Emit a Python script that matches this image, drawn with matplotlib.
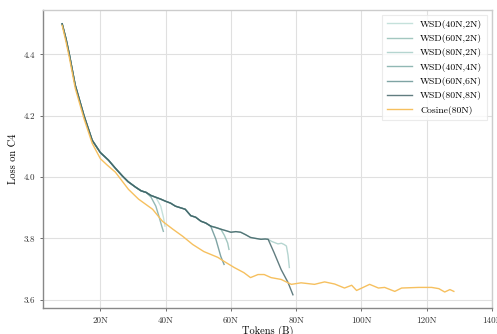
import matplotlib
matplotlib.use('Agg')
import matplotlib.pyplot as plt

plt.rcParams['font.family'] = ['cmr10', 'DejaVu Serif']
plt.rcParams['mathtext.fontset'] = 'cm'
plt.rcParams['axes.unicode_minus'] = False

# shared stable phase of the WSD runs (tokens in B, loss)
trunk_x = [8.3, 9.5, 10.5, 12.3, 15.0, 17.5, 20.0, 22.5, 24.5, 26.8, 28.5, 30.8,
           32.5, 34.0, 35.5, 37.0, 38.5, 40.0, 41.5, 43.0, 44.5, 46.0, 47.7, 49.2,
           50.8, 52.3, 53.8, 55.5, 56.9, 58.5, 60.0, 61.5, 63.0, 64.5, 66.0, 67.5,
           69.2, 70.5, 71.4, 72.5, 74.4, 75.5, 76.3]
trunk_y = [4.50, 4.45, 4.40, 4.30, 4.20, 4.12, 4.08, 4.055, 4.03, 4.003, 3.985, 3.967,
           3.955, 3.950, 3.940, 3.934, 3.928, 3.921, 3.915, 3.905, 3.900, 3.895, 3.874, 3.869,
           3.856, 3.850, 3.840, 3.835, 3.830, 3.825, 3.820, 3.822, 3.820, 3.812, 3.803, 3.800,
           3.797, 3.798, 3.797, 3.790, 3.782, 3.784, 3.780]

# decay phases: (start of decay on the trunk, decay x, decay y)
decay_40n_2n = (37.0, [38.5, 39.3, 39.8], [3.905, 3.87, 3.84])
decay_60n_2n = (56.9, [58.0, 59.0, 59.4], [3.81, 3.785, 3.764])
decay_80n_2n = (76.3, [77.0, 77.5, 77.9], [3.775, 3.745, 3.705])
decay_40n_4n = (34.0, [35.5, 37.0, 38.0, 38.8, 39.3], [3.935, 3.905, 3.87, 3.84, 3.823])
decay_60n_6n = (53.8, [55.4, 56.9, 57.9], [3.797, 3.741, 3.715])
decay_80n_8n = (71.4, [73.2, 75.4, 77.5, 79.0], [3.754, 3.698, 3.656, 3.616])

cos_x = [8.3, 9.5, 10.5, 12.3, 15.0, 17.5, 20.0, 22.0, 24.6, 28.6, 31.7, 36.0,
         39.0, 42.2, 45.2, 48.3, 51.7, 56.0, 57.9, 61.0, 64.0, 66.0, 68.3, 70.2,
         72.3, 75.4, 78.5, 81.5, 85.6, 88.7, 91.8, 94.8, 97.0, 98.5, 102.5, 105.2,
         107.1, 110.2, 112.3, 117.5, 121.5, 123.7, 125.5, 127.1, 128.3]
cos_y = [4.495, 4.44, 4.39, 4.29, 4.19, 4.11, 4.06, 4.04, 4.016, 3.96, 3.928, 3.895,
         3.856, 3.83, 3.807, 3.78, 3.757, 3.738, 3.725, 3.705, 3.688, 3.672, 3.682, 3.682,
         3.672, 3.666, 3.65, 3.655, 3.65, 3.658, 3.651, 3.638, 3.647, 3.63, 3.65, 3.638,
         3.64, 3.627, 3.638, 3.64, 3.64, 3.636, 3.625, 3.633, 3.627]

runs = [
    ('WSD(40N,2N)', decay_40n_2n, '#b7dad3'),
    ('WSD(60N,2N)', decay_60n_2n, '#8cb9b1'),
    ('WSD(80N,2N)', decay_80n_2n, '#a3cbc5'),
    ('WSD(40N,4N)', decay_40n_4n, '#76a6a2'),
    ('WSD(60N,6N)', decay_60n_6n, '#5f8d8e'),
    ('WSD(80N,8N)', decay_80n_8n, '#3a5c60'),
]

fig = plt.figure(figsize=(4.97, 3.34), dpi=100)
ax = fig.add_axes([0.087, 0.078, 0.903, 0.892])

for label, (start, dx, dy), color in runs:
    xs = [x for x in trunk_x if x <= start] + dx
    ys = [y for x, y in zip(trunk_x, trunk_y) if x <= start] + dy
    ax.plot(xs, ys, color=color, lw=1.0, alpha=0.8, label=label)

ax.plot(cos_x, cos_y, color='#f6c05f', lw=1.0, label='Cosine(80N)')

ax.set_xlim(2.5, 140)
ax.set_ylim(3.573, 4.545)
xt = [20, 40, 60, 80, 100, 120, 140]
ax.set_xticks(xt)
ax.set_xticklabels(['%dN' % v for v in xt])
ax.set_yticks([3.6, 3.8, 4.0, 4.2, 4.4])
ax.set_yticklabels(['3.6', '3.8', '4.0', '4.2', '4.4'])
ax.tick_params(labelsize=6.5, length=2.5, width=0.6, colors='#555555', labelcolor='#333333')

ax.set_xlabel('Tokens (B)', fontsize=7.5, labelpad=1)
ax.set_ylabel('Loss on C4', fontsize=7.5, labelpad=4)

ax.grid(True, color='#e0e0e0', lw=0.8)
ax.set_axisbelow(True)
for side in ['left', 'bottom']:
    ax.spines[side].set_color('#888888')
for side in ['top', 'right']:
    ax.spines[side].set_color('#cccccc')
for sp in ax.spines.values():
    sp.set_linewidth(1.0)

leg = ax.legend(loc='upper right', fontsize=7, frameon=True, handlelength=2.6,
                labelspacing=0.55, borderpad=0.5, fancybox=False)
leg.get_frame().set_edgecolor('#e6e6e6')
leg.get_frame().set_linewidth(0.8)

fig.savefig('out.png', dpi=100)
